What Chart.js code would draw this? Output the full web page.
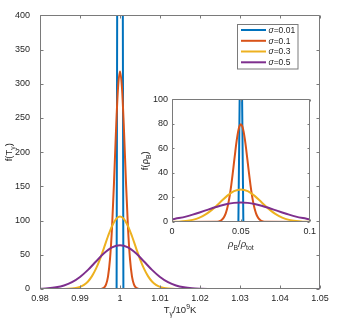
<!DOCTYPE html>
<html><head><meta charset="utf-8">
<script src="https://cdn.jsdelivr.net/npm/chart.js@4.4.1/dist/chart.umd.min.js"></script>
<style>
html,body{margin:0;padding:0;background:#fff;}
#wrap{position:relative;width:362px;height:326px;overflow:hidden;}
#main{position:absolute;left:0;top:0;}
#inset{position:absolute;left:130px;top:90px;}
</style></head><body>
<div id="wrap"><canvas id="main" width="362" height="326"></canvas><canvas id="inset" width="190" height="170"></canvas></div>
<script>
// ---- data ----
const seriesLabels = ['σ=0.01', 'σ=0.1', 'σ=0.3', 'σ=0.5'];
const mainXTicks = [0.98, 0.99, 1, 1.01, 1.02, 1.03, 1.04, 1.05];
const mainYTicks = [0, 50, 100, 150, 200, 250, 300, 350, 400];
const insetXTicks = [0, 0.05, 0.1];
const insetYTicks = [0, 20, 40, 60, 80, 100];

// main panel: f(T_gamma) vs T_gamma / 10^9 K
const mainBlueX = [0.98, 0.99915, 0.9993, 0.9995, 1, 1.0005, 1.0007, 1.00085, 1.05];
const mainBlueY = [0, 0, 420, 2000, 3190, 2000, 420, 0, 0];
const mainOrangeX = [0.98, 0.995, 0.9955, 0.996, 0.9965, 0.997, 0.9975, 0.998, 0.9985, 0.999, 0.9995, 1,
  1.0005, 1.001, 1.0015, 1.002, 1.0025, 1.003, 1.0035, 1.004, 1.0045, 1.005, 1.05];
const mainOrangeY = [0, 0.11, 0.51, 1.96, 6.47, 18.2, 43.6, 89.1, 155.5, 231.4, 293.7, 318,
  293.7, 231.4, 155.5, 89.1, 43.6, 18.2, 6.47, 1.96, 0.51, 0.11, 0];
const mainYellowX = [0.98, 0.986, 0.988, 0.989, 0.99, 0.991, 0.992, 0.993, 0.994, 0.995, 0.996, 0.997, 0.998, 0.999, 1,
  1.001, 1.002, 1.003, 1.004, 1.005, 1.006, 1.007, 1.008, 1.009, 1.01, 1.011, 1.012, 1.014, 1.05];
const mainYellowY = [0, 0.1, 0.65, 1.47, 3.1, 6.06, 11.0, 18.8, 29.7, 43.8, 60.2, 77.1, 92.0, 102.3, 106,
  102.3, 92.0, 77.1, 60.2, 43.8, 29.7, 18.8, 11.0, 6.06, 3.1, 1.47, 0.65, 0.1, 0];
const mainPurpleX = [0.98, 0.982, 0.984, 0.986, 0.988, 0.99, 0.992, 0.994, 0.996, 0.998, 1,
  1.002, 1.004, 1.006, 1.008, 1.01, 1.012, 1.014, 1.016, 1.018, 1.02, 1.022, 1.024, 1.05];
const mainPurpleY = [0.37, 0.98, 2.4, 5.1, 10.0, 17.6, 28.0, 40.2, 52.1, 60.8, 64.0,
  60.8, 52.1, 40.2, 28.0, 17.6, 10.0, 5.1, 2.4, 0.98, 0.37, 0.12, 0.04, 0];

// inset: f(rho_B) vs rho_B / rho_tot
const insetBlueX = [0, 0.0482, 0.0492, 0.0496, 0.05, 0.0504, 0.0508, 0.0518, 0.1];
const insetBlueY = [0, 0, 110, 500, 798, 500, 110, 0, 0];
const insetOrangeX = [0, 0.032, 0.034, 0.035, 0.036, 0.037, 0.038, 0.039, 0.04, 0.041, 0.042, 0.043, 0.044, 0.045,
  0.046, 0.047, 0.048, 0.049, 0.05, 0.051, 0.052, 0.053, 0.054, 0.055, 0.056, 0.057, 0.058, 0.059, 0.06,
  0.061, 0.062, 0.063, 0.064, 0.065, 0.066, 0.068, 0.1];
const insetOrangeY = [0, 0.12, 0.48, 0.89, 1.6, 2.7, 4.5, 7.1, 10.8, 15.8, 22.2, 29.9, 38.8, 48.4,
  57.9, 66.7, 73.7, 78.2, 79.8, 78.2, 73.7, 66.7, 57.9, 48.4, 38.8, 29.9, 22.2, 15.8, 10.8,
  7.1, 4.5, 2.7, 1.6, 0.89, 0.48, 0.12, 0];
const insetYellowX = [0, 0.005, 0.01, 0.015, 0.02, 0.025, 0.03, 0.035, 0.04, 0.045, 0.05,
  0.055, 0.06, 0.065, 0.07, 0.075, 0.08, 0.085, 0.09, 0.095, 0.1];
const insetYellowY = [0.10, 0.30, 0.76, 1.75, 3.6, 6.6, 10.9, 16.1, 21.3, 25.2, 26.6,
  25.2, 21.3, 16.1, 10.9, 6.6, 3.6, 1.75, 0.76, 0.30, 0.10];
const insetPurpleX = insetYellowX;
const insetPurpleY = [2.2, 3.2, 4.4, 6.0, 7.8, 9.7, 11.6, 13.3, 14.7, 15.6, 16.0,
  15.6, 14.7, 13.3, 11.6, 9.7, 7.8, 6.0, 4.4, 3.2, 2.2];

// ---- styling ----
const COLORS = ['#0072BD', '#D95319', '#EDB120', '#7E2F8E'];
const TXT = '#262626';
const AX = '#7a7a7a';
const FONT = "'Liberation Sans', Arial, Helvetica, sans-serif";

function pts(xs, ys) { return xs.map((x, i) => ({ x: x, y: ys[i] })); }
function mkDatasets(sets) {
  return sets.map((s, i) => ({
    label: seriesLabels[i],
    data: pts(s[0], s[1]),
    borderColor: COLORS[i],
    backgroundColor: COLORS[i],
    borderWidth: 2,
    pointRadius: 0,
    fill: false,
    tension: 0,
    cubicInterpolationMode: i === 0 ? 'default' : 'monotone',
    order: 4 - i
  }));
}

function drawFrame(chart, tl) {
  const { ctx, chartArea: a, scales } = chart;
  const x = scales.x, y = scales.y;
  ctx.save();
  ctx.strokeStyle = AX; ctx.lineWidth = 1;
  const L = Math.round(a.left) + 0.5, R = Math.round(a.right) - 0.5;
  const T = Math.round(a.top) + 0.5, B = Math.round(a.bottom) - 0.5;
  ctx.beginPath();
  ctx.rect(L, T, R - L, B - T);
  x.ticks.forEach(t => {
    const p = Math.round(x.getPixelForValue(t.value)) + 0.5;
    ctx.moveTo(p, B); ctx.lineTo(p, B - tl);
    ctx.moveTo(p, T); ctx.lineTo(p, T + tl);
  });
  y.ticks.forEach(t => {
    const p = Math.round(y.getPixelForValue(t.value)) + 0.5;
    ctx.moveTo(L, p); ctx.lineTo(L + tl, p);
    ctx.moveTo(R, p); ctx.lineTo(R - tl, p);
  });
  ctx.stroke();
  ctx.restore();
}

// parts: [text, mode, italic]; mode: 'n' | 'sub' | 'sup'
function drawRich(ctx, parts, cx, cy, size, rot) {
  ctx.save();
  ctx.translate(cx, cy);
  if (rot) ctx.rotate(-Math.PI / 2);
  ctx.fillStyle = TXT;
  ctx.textBaseline = 'alphabetic';
  ctx.textAlign = 'left';
  const fontFor = p => (p[2] ? 'italic ' : '') + ((p[1] === 'n' ? size : size * 0.72).toFixed(1)) + 'px ' + FONT;
  let w = 0;
  parts.forEach(p => { ctx.font = fontFor(p); w += ctx.measureText(p[0]).width; });
  let xx = -w / 2;
  const base = size * 0.36;
  parts.forEach(p => {
    ctx.font = fontFor(p);
    const dy = p[1] === 'sub' ? size * 0.32 : (p[1] === 'sup' ? -size * 0.42 : 0);
    ctx.fillText(p[0], xx, base + dy);
    xx += ctx.measureText(p[0]).width;
  });
  ctx.restore();
}

function axisCommon(ticksArr, min, max, fitProp, fitVal, pad, fontSize) {
  return {
    type: 'linear', min: min, max: max,
    grid: { display: false, drawTicks: false },
    border: { display: false },
    afterBuildTicks: s => { s.ticks = ticksArr.map(v => ({ value: v })); },
    afterFit: s => { s[fitProp] = fitVal; },
    ticks: {
      padding: pad, color: TXT, autoSkip: false, maxRotation: 0,
      font: { family: FONT, size: fontSize },
      callback: v => String(v)
    }
  };
}

const mainPlugin = {
  id: 'mainDecor',
  afterDraw(chart) {
    const ctx = chart.ctx, a = chart.chartArea;
    drawFrame(chart, 3);
    // axis titles
    drawRich(ctx, [['f(T', 'n'], ['γ', 'sub'], [')', 'n']], 9, (a.top + a.bottom) / 2, 9.5, true);
    drawRich(ctx, [['T', 'n'], ['γ', 'sub'], ['/10', 'n'], ['9', 'sup'], ['K', 'n']], (a.left + a.right) / 2, 310, 9.5, false);
    // legend
    ctx.save();
    ctx.fillStyle = '#fff';
    ctx.fillRect(237, 24, 61, 45);
    ctx.strokeStyle = AX; ctx.lineWidth = 1;
    ctx.strokeRect(237.5, 24.5, 60.5, 44.5);
    const rows = [30, 40.8, 51.5, 62.3];
    chart.data.datasets.forEach((ds, i) => {
      ctx.strokeStyle = ds.borderColor; ctx.lineWidth = 2;
      ctx.beginPath(); ctx.moveTo(241, rows[i]); ctx.lineTo(266, rows[i]); ctx.stroke();
      const [sym, rest] = [ds.label.slice(0, 1), ds.label.slice(1)];
      ctx.fillStyle = TXT; ctx.textBaseline = 'middle'; ctx.textAlign = 'left';
      ctx.font = 'italic 8.5px ' + FONT;
      ctx.fillText(sym, 268.5, rows[i] + 0.5);
      const w = ctx.measureText(sym).width;
      ctx.font = '8.5px ' + FONT;
      ctx.fillText(rest, 268.5 + w, rows[i] + 0.5);
    });
    ctx.restore();
  }
};

const insetPlugin = {
  id: 'insetDecor',
  beforeDatasetsDraw(chart) {
    const ctx = chart.ctx, a = chart.chartArea;
    ctx.save(); ctx.fillStyle = '#fff';
    ctx.fillRect(a.left, a.top, a.right - a.left, a.bottom - a.top);
    ctx.restore();
  },
  afterDraw(chart) {
    const ctx = chart.ctx, a = chart.chartArea;
    drawFrame(chart, 2);
    drawRich(ctx, [['f(', 'n'], ['ρ', 'n'], ['B', 'sub'], [')', 'n']], 15, (a.top + a.bottom) / 2, 9.5, true);
    drawRich(ctx, [['ρ', 'n', true], ['B', 'sub'], ['/', 'n'], ['ρ', 'n', true], ['tot', 'sub']], (a.left + a.right) / 2, 154, 9.5, false);
  }
};

new Chart(document.getElementById('main'), {
  type: 'line',
  data: { datasets: mkDatasets([[mainBlueX, mainBlueY], [mainOrangeX, mainOrangeY], [mainYellowX, mainYellowY], [mainPurpleX, mainPurpleY]]) },
  options: {
    responsive: false, animation: false, devicePixelRatio: 1,
    layout: { padding: { top: 5, right: 42, left: 0, bottom: 0 } },
    plugins: { legend: { display: false }, tooltip: { enabled: false } },
    scales: {
      x: axisCommon(mainXTicks, 0.98, 1.05, 'height', 37, 4, 9),
      y: axisCommon(mainYTicks, 0, 400, 'width', 40, 10, 9)
    }
  },
  plugins: [mainPlugin]
});

new Chart(document.getElementById('inset'), {
  type: 'line',
  data: { datasets: mkDatasets([[insetBlueX, insetBlueY], [insetOrangeX, insetOrangeY], [insetYellowX, insetYellowY], [insetPurpleX, insetPurpleY]]) },
  options: {
    responsive: false, animation: false, devicePixelRatio: 1,
    layout: { padding: { top: 9, right: 9, left: 0, bottom: 0 } },
    plugins: { legend: { display: false }, tooltip: { enabled: false } },
    scales: {
      x: axisCommon(insetXTicks, 0, 0.1, 'height', 38, 4, 9),
      y: axisCommon(insetYTicks, 0, 100, 'width', 42, 4, 9)
    }
  },
  plugins: [insetPlugin]
});
</script>
</body></html>
